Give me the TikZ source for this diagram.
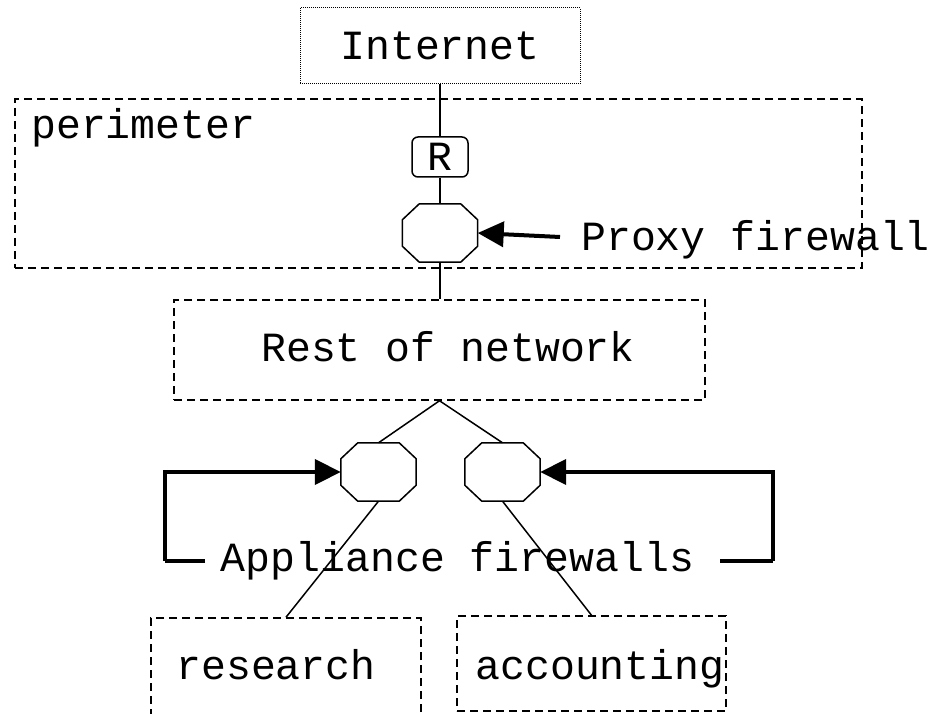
\documentclass[tikz,border=0pt]{standalone}
\usepackage{fontspec}
\newfontfamily\monofnt{Liberation Mono}
\usetikzlibrary{arrows.meta,calc}
\newcommand\octshape[1]{%
  \draw[conn,fill=white] ($(#1.north west)+(17,0)$) -- ($(#1.north east)+(-17,0)$)
    -- ($(#1.north east)+(0,16)$) -- ($(#1.south east)+(0,-16)$)
    -- ($(#1.south east)+(-17,0)$) -- ($(#1.south west)+(17,0)$)
    -- ($(#1.south west)+(0,-16)$) -- ($(#1.north west)+(0,16)$) -- cycle;}
\begin{document}
\begin{tikzpicture}[x=1pt,y=-1pt,
  txt/.style={font=\monofnt\fontsize{41.5}{48}\selectfont, inner sep=0pt},
  conn/.style={line width=1.5pt},
  dashbox/.style={draw, line width=1.5pt, dash pattern=on 8pt off 5pt, inner sep=0pt},
  dotbox/.style={draw, line width=1pt, dash pattern=on 1pt off 1pt, inner sep=0pt, txt},
  octbox/.style={minimum width=75pt, minimum height=58pt, inner sep=0pt},
  bigarrow/.style={line width=4pt, -{Triangle[length=26pt,width=25pt]}},
  bracket/.style={line width=4pt}
]
\useasboundingbox (0,0) rectangle (934,714);
\clip (0,0) rectangle (934,714);

% Internet
\node[dotbox, minimum width=280pt, minimum height=76pt] (inet) at (440,46) {Internet};

% perimeter
\node[dashbox, minimum width=847pt, minimum height=169pt] (perim) at (438.5,183.5) {};
\node[txt, anchor=base west] (perimlbl) at (31,139) {perimeter};

% router
\node[draw, conn, rounded corners=6pt, minimum width=56pt, minimum height=40pt, txt] (r) at (440,157) {R};

% proxy firewall
\node[octbox] (proxy) at (440,233) {};
\octshape{proxy}
\node[txt, anchor=base west] (proxylbl) at (581,250) {Proxy firewall};
\coordinate (ptail) at (560,237);

% rest of network
\node[dashbox, minimum width=531pt, minimum height=100pt] (rest) at (439.5,350) {};
\node[txt] (restlbl) at (448,347) {Rest of network};

% appliance firewalls
\node[octbox] (lf) at (378.5,472) {};
\node[octbox] (rf) at (502.5,472) {};
\octshape{lf}
\octshape{rf}

% bottom boxes
\node[dashbox, minimum width=270pt, minimum height=110pt] (research) at (286,673) {};
\node[txt, anchor=base] (researchlbl) at (276,679) {research};
\node[dashbox, minimum width=269pt, minimum height=95pt] (acct) at (591.5,663.5) {};
\node[txt, anchor=base] (acctlbl) at (600,679) {accounting};

\node[txt] (app) at (457.5,561) {Appliance firewalls};
\coordinate (bl) at (205,561);
\coordinate (blc) at (165,561);
\coordinate (br) at (720,561);
\coordinate (brc) at (773,561);

% connectors
\draw[conn] (inet.south) -- (r.north);
\draw[conn] (r.south) -- (proxy.north);
\draw[conn] (proxy.south) -- (proxy.south |- rest.north);
\draw[conn] (rest.south) -- (lf.north);
\draw[conn] (rest.south) -- (rf.north);
\draw[conn] (lf.south) -- (research.north);
\draw[conn] (rf.south) -- (acct.north);

\draw[bigarrow] (ptail) -- (proxy.east);
\draw[bracket] (bl) -- (blc);
\draw[bigarrow] (blc) |- (lf.west);
\draw[bracket] (br) -- (brc);
\draw[bigarrow] (brc) |- (rf.east);
\end{tikzpicture}
\end{document}
